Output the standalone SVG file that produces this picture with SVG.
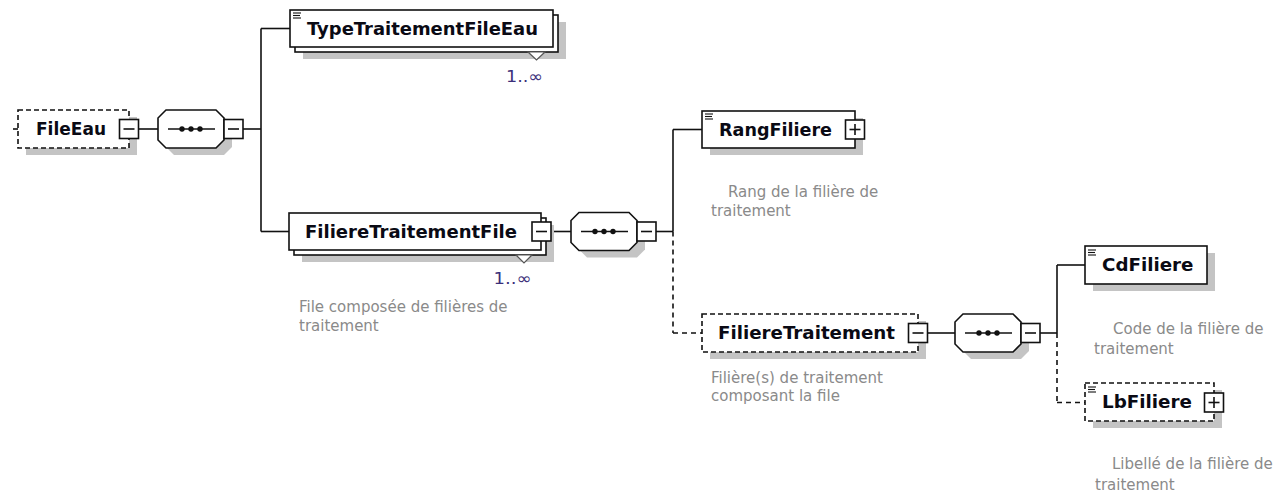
<svg xmlns="http://www.w3.org/2000/svg" xmlns:xlink="http://www.w3.org/1999/xlink" width="1281" height="497" viewBox="0 0 1281 497">
<style>
.bg{fill:#fff}
.box{fill:#fff;stroke:#111;stroke-width:1.6}
.dbox{fill:#fff;stroke:#111;stroke-width:1.6;stroke-dasharray:5 3}
.shadow{fill:#c4c4c4;stroke:none}
.ln{fill:none;stroke:#111;stroke-width:1.6}
.dln{fill:none;stroke:#111;stroke-width:1.6;stroke-dasharray:5 4}
.ico{fill:none;stroke:#111;stroke-width:1.1}
.title{font-family:"DejaVu Sans",sans-serif;font-weight:bold;font-size:17px;fill:#0a0a14}
.desc{font-family:"DejaVu Sans",sans-serif;font-size:15px;fill:#8a8a8a}
.occ{font-family:"DejaVu Sans",sans-serif;font-size:16px;fill:#3b2f7a}
.caret{fill:#fff;stroke:#555;stroke-width:1.2}
</style>
<defs>
<g id="minus"><rect class="box" x="0" y="0" width="19" height="19"/><line class="ln" x1="4" y1="9.5" x2="15" y2="9.5"/></g>
<g id="plus"><rect class="box" x="0" y="0" width="19" height="19"/><line class="ln" x1="4" y1="9.5" x2="15" y2="9.5"/><line class="ln" x1="9.5" y1="4" x2="9.5" y2="15"/></g>
<g id="icon"><line class="ico" x1="0" y1="0.5" x2="8" y2="0.5"/><line class="ico" x1="0" y1="3" x2="7" y2="3"/><line class="ico" x1="0" y1="5.5" x2="8" y2="5.5"/></g>
<g id="seq">
<polygon class="shadow" points="16,7 66,7 74,15 74,37 66,45 16,45 8,37 8,15"/>
<polygon class="box" points="8,0 58,0 66,8 66,30 58,38 8,38 0,30 0,8"/>
<line class="ln" x1="10" y1="19" x2="57" y2="19"/>
<circle cx="24" cy="19" r="2.7" fill="#111"/>
<circle cx="33" cy="19" r="2.7" fill="#111"/>
<circle cx="42" cy="19" r="2.7" fill="#111"/>
<use xlink:href="#minus" href="#minus" x="66" y="9.5"/>
</g>
</defs>
<rect class="bg" x="0" y="0" width="1281" height="497"/>

<g id="connectors">
<line class="ln" x1="13" y1="129" x2="18" y2="129"/>
<line class="ln" x1="138" y1="129" x2="158" y2="129"/>
<line class="ln" x1="243" y1="129" x2="261" y2="129"/>
<line class="ln" x1="261" y1="28.5" x2="261" y2="231.5"/>
<line class="ln" x1="261" y1="28.5" x2="290" y2="28.5"/>
<line class="ln" x1="261" y1="231.5" x2="289" y2="231.5"/>
<line class="ln" x1="551" y1="231.5" x2="571" y2="231.5"/>
<line class="ln" x1="656" y1="231.5" x2="673" y2="231.5"/>
<line class="ln" x1="673" y1="129.5" x2="673" y2="231.5"/>
<line class="ln" x1="673" y1="129.5" x2="702" y2="129.5"/>
<line class="dln" x1="673" y1="231.5" x2="673" y2="333"/>
<line class="dln" x1="673" y1="333" x2="702" y2="333"/>
<line class="ln" x1="927" y1="333" x2="955" y2="333"/>
<line class="ln" x1="1040" y1="333" x2="1057" y2="333"/>
<line class="ln" x1="1057" y1="265" x2="1057" y2="333"/>
<line class="ln" x1="1057" y1="265" x2="1085" y2="265"/>
<line class="dln" x1="1057" y1="333" x2="1057" y2="402.5"/>
<line class="dln" x1="1057" y1="402.5" x2="1085" y2="402.5"/>
</g>

<g id="FileEau">
<rect class="shadow" x="26" y="117" width="111" height="38"/>
<rect class="dbox" x="18" y="110" width="111" height="38"/>
<text class="title" x="36" y="135" textLength="70" lengthAdjust="spacingAndGlyphs">FileEau</text>
<use xlink:href="#minus" href="#minus" x="119.5" y="119.5"/>
</g>

<g id="seq1" transform="translate(158,110)"><use xlink:href="#seq" href="#seq"/></g>

<g id="TypeTraitementFileEau">
<rect class="shadow" x="303" y="22" width="263" height="37"/>
<rect class="box" x="295" y="15" width="263" height="37"/>
<rect class="box" x="290" y="10" width="263" height="37"/>
<use xlink:href="#icon" href="#icon" x="293" y="12.5"/>
<text class="title" x="307" y="34.5" textLength="231" lengthAdjust="spacingAndGlyphs">TypeTraitementFileEau</text>
<polygon class="caret" points="528,52 536.5,60 545,52"/>
<text class="occ" x="506" y="81.5" textLength="37" lengthAdjust="spacingAndGlyphs">1..∞</text>
</g>

<g id="FiliereTraitementFile">
<rect class="shadow" x="302" y="225" width="252" height="37"/>
<rect class="box" x="294" y="218" width="252" height="37"/>
<rect class="box" x="289" y="213" width="252" height="37"/>
<text class="title" x="305" y="237.5" textLength="212" lengthAdjust="spacingAndGlyphs">FiliereTraitementFile</text>
<use xlink:href="#minus" href="#minus" x="532" y="222"/>
<polygon class="caret" points="516,255 524,263 532,255"/>
<text class="occ" x="493.5" y="283.5" textLength="38" lengthAdjust="spacingAndGlyphs">1..∞</text>
<text class="desc" x="299" y="312">File composée de filières de</text>
<text class="desc" x="299" y="331">traitement</text>
</g>

<g id="seq2" transform="translate(571,212.5)"><use xlink:href="#seq" href="#seq"/></g>

<g id="RangFiliere">
<rect class="shadow" x="710" y="118" width="153" height="37"/>
<rect class="box" x="702" y="111" width="153" height="37"/>
<use xlink:href="#icon" href="#icon" x="705" y="113.5"/>
<text class="title" x="719" y="135.5" textLength="113" lengthAdjust="spacingAndGlyphs">RangFiliere</text>
<use xlink:href="#plus" href="#plus" x="845.5" y="120"/>
<text class="desc" x="728" y="197">Rang de la filière de</text>
<text class="desc" x="711" y="216">traitement</text>
</g>

<g id="FiliereTraitement">
<rect class="shadow" x="710" y="321" width="216" height="38"/>
<rect class="dbox" x="702" y="314" width="216" height="38"/>
<text class="title" x="718" y="339" textLength="177" lengthAdjust="spacingAndGlyphs">FiliereTraitement</text>
<use xlink:href="#minus" href="#minus" x="908.5" y="323.5"/>
<text class="desc" x="711" y="383">Filière(s) de traitement</text>
<text class="desc" x="711" y="401">composant la file</text>
</g>

<g id="seq3" transform="translate(955,314)"><use xlink:href="#seq" href="#seq"/></g>

<g id="CdFiliere">
<rect class="shadow" x="1093" y="253" width="122" height="38"/>
<rect class="box" x="1085" y="246" width="122" height="38"/>
<use xlink:href="#icon" href="#icon" x="1088" y="249.5"/>
<text class="title" x="1102" y="271" textLength="91.5" lengthAdjust="spacingAndGlyphs">CdFiliere</text>
<text class="desc" x="1113" y="334">Code de la filière de</text>
<text class="desc" x="1094" y="354">traitement</text>
</g>

<g id="LbFiliere">
<rect class="shadow" x="1093" y="390" width="129" height="38"/>
<rect class="dbox" x="1085" y="383" width="129" height="38"/>
<use xlink:href="#icon" href="#icon" x="1088" y="386.5"/>
<text class="title" x="1102" y="408" textLength="90" lengthAdjust="spacingAndGlyphs">LbFiliere</text>
<use xlink:href="#plus" href="#plus" x="1204.5" y="393"/>
<text class="desc" x="1112" y="469">Libellé de la filière de</text>
<text class="desc" x="1095" y="490">traitement</text>
</g>
</svg>
